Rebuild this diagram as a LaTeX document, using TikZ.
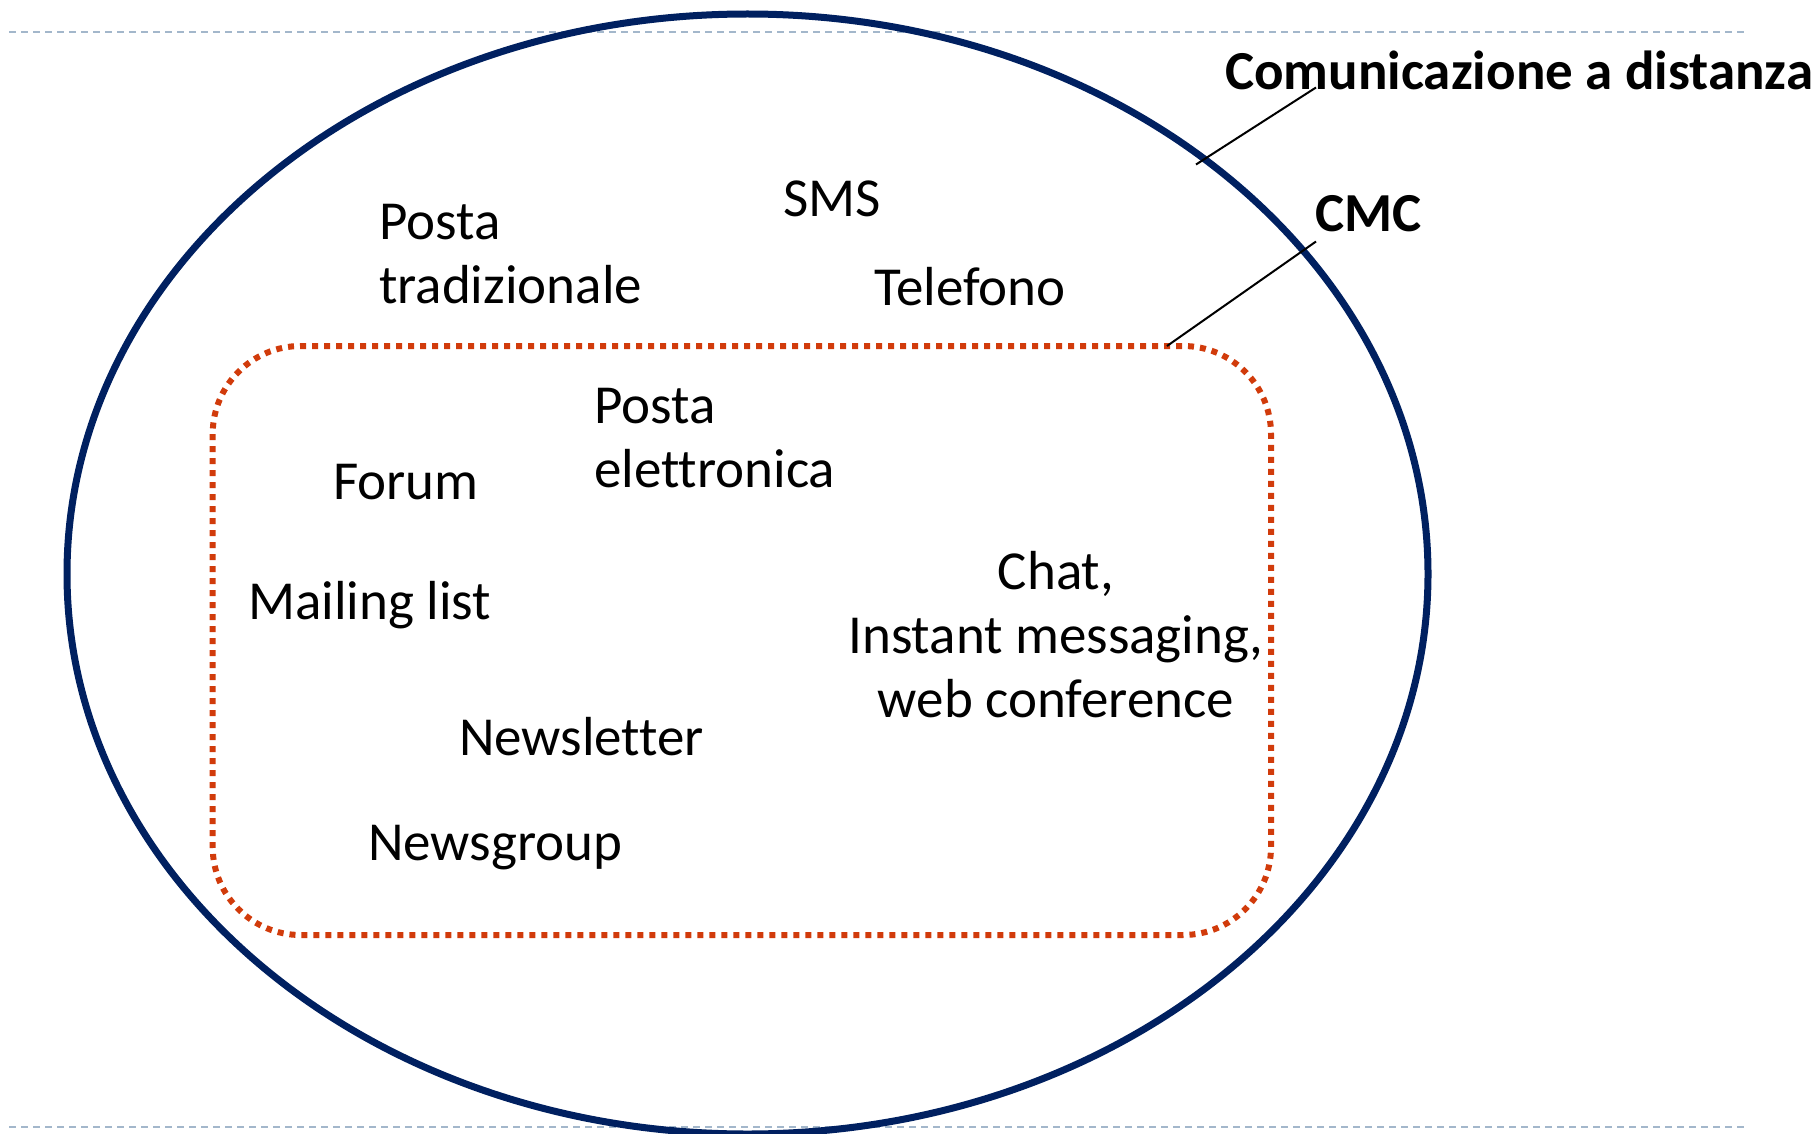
\documentclass[tikz,border=0pt]{standalone}
\usepackage{fontspec}
\setmainfont{Carlito}[Ligatures=NoCommon]
\definecolor{navy}{RGB}{0,32,96}
\definecolor{cmcred}{RGB}{209,59,11}
\definecolor{guide}{RGB}{163,183,203}
\begin{document}
\begin{tikzpicture}[x=1pt,y=-1pt,
  lbl/.style={anchor=base west,inner sep=0pt,align=left,font=\fontsize{55}{64}\selectfont},
  title/.style={anchor=base west,inner sep=0pt,font=\fontsize{55}{64}\selectfont\bfseries},
  leader/.style={draw=black,line width=2pt},
  guideline/.style={draw=guide,line width=2.5pt,dash pattern=on 7pt off 5pt}]
\useasboundingbox (0,0) rectangle (1820,1134);
\draw[guideline] (9,32) -- (1747,32);
\draw[guideline] (9,1127) -- (1747,1127);
\draw[navy,line width=7pt] (747.5,574) ellipse [x radius=680.5, y radius=560];
\draw[cmcred,line width=6pt,dash pattern=on 6pt off 6pt,rounded corners=88pt] (212.7,346) rectangle (1271,935);
\node[title] (cad) at (1225,90) {Comunicazione a distanza};
\node[title] (cmc) at (1315,231) {CMC};
\coordinate (cadend) at (1196,164.5);
\coordinate (cadtip) at (1316,87.5);
\coordinate (cmcend) at (1167,346);
\coordinate (cmctip) at (1316,241.5);
\draw[leader] (cadtip) -- (cadend);
\draw[leader] (cmctip) -- (cmcend);
\node[lbl] (sms) at (783,216) {SMS};
\node[lbl] (posta) at (379,303) {Posta\\tradizionale};
\node[lbl] (tel) at (874,305.6) {Telefono};
\node[lbl] (email) at (594,487.7) {Posta\\elettronica};
\node[lbl] (forum) at (333,499) {Forum};
\node[lbl] (ml) at (248,619.5) {Mailing list};
\node[lbl,align=center,anchor=base] (chat) at (1056,717.5) {Chat,\\Instant messaging,\\web conference};
\node[lbl] (nl) at (459,755) {Newsletter};
\node[lbl] (ng) at (368,860) {Newsgroup};
\end{tikzpicture}
\end{document}
